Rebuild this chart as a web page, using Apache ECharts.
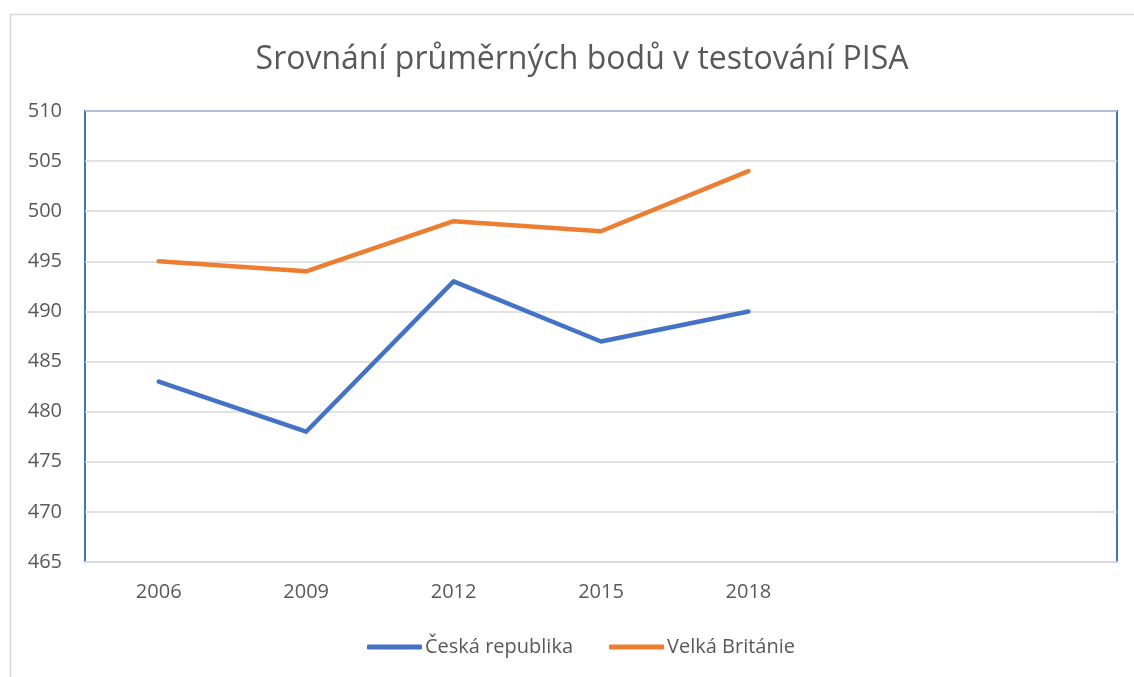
<!DOCTYPE html>
<html>
<head>
<meta charset="utf-8">
<script src="https://cdn.jsdelivr.net/npm/echarts@6/dist/echarts.min.js"></script>
<style>
  html, body { margin: 0; padding: 0; background: #fff; }
  #chart { width: 1134px; height: 677px; }
</style>
</head>
<body>
<div id="chart"></div>
<script>
// data
var years = ["2006", "2009", "2012", "2015", "2018", "", ""];
var cesko = [483, 478, 493, 487, 490];
var britanie = [495, 494, 499, 498, 504];
var seriesNames = ["Česká republika", "Velká Británie"];
var chartTitle = "Srovnání průměrných bodů v testování PISA";

var textColor = "#595959";
var font = "'Open Sans', 'Noto Sans', sans-serif";

var chart = echarts.init(document.getElementById("chart"));
var option = {
  backgroundColor: "#fff",
  animation: false,
  textStyle: { fontFamily: font },
  title: {
    text: chartTitle,
    left: 577,
    top: 39,
    textAlign: "center",
    textStyle: { fontFamily: font, fontSize: 32, fontWeight: "normal", color: textColor }
  },
  graphic: [
    {
      type: "rect",
      left: 8, top: 12,
      shape: { width: 1140, height: 700 },
      style: { fill: "none", stroke: "#d9d9d9", lineWidth: 1.5 },
      z: -1
    }
  ],
  legend: {
    data: seriesNames,
    left: 362,
    top: 632,
    itemWidth: 55,
    itemHeight: 5,
    itemGap: 36,
    icon: "roundRect",
    textStyle: { fontFamily: font, fontSize: 20, color: textColor, padding: [0, 0, 0, -2] }
  },
  grid: {
    left: 85, right: 17, top: 111, bottom: 115,
    show: true,
    borderColor: "#4472C4",
    borderWidth: 2,
    containLabel: false
  },
  xAxis: {
    type: "category",
    data: years,
    boundaryGap: true,
    axisLine: { lineStyle: { color: "#d9d9d9", width: 2 } },
    axisTick: { show: false },
    axisLabel: { fontFamily: font, fontSize: 20, color: textColor, margin: 20 },
    z: 5
  },
  yAxis: {
    type: "value",
    min: 465, max: 510, interval: 5,
    axisLine: { show: false },
    axisTick: { show: false },
    axisLabel: { fontFamily: font, fontSize: 20, color: textColor, margin: 23 },
    splitLine: { lineStyle: { color: "#d9d9d9", width: 1.5 } }
  },
  series: [
    {
      name: seriesNames[0],
      type: "line",
      data: cesko,
      symbol: "none",
      lineStyle: { color: "#4472C4", width: 4.5, cap: "round", join: "round" },
      itemStyle: { color: "#4472C4" }
    },
    {
      name: seriesNames[1],
      type: "line",
      data: britanie,
      symbol: "none",
      lineStyle: { color: "#ED7D31", width: 4.5, cap: "round", join: "round" },
      itemStyle: { color: "#ED7D31" }
    }
  ]
};
chart.setOption(option);
</script>
</body>
</html>
